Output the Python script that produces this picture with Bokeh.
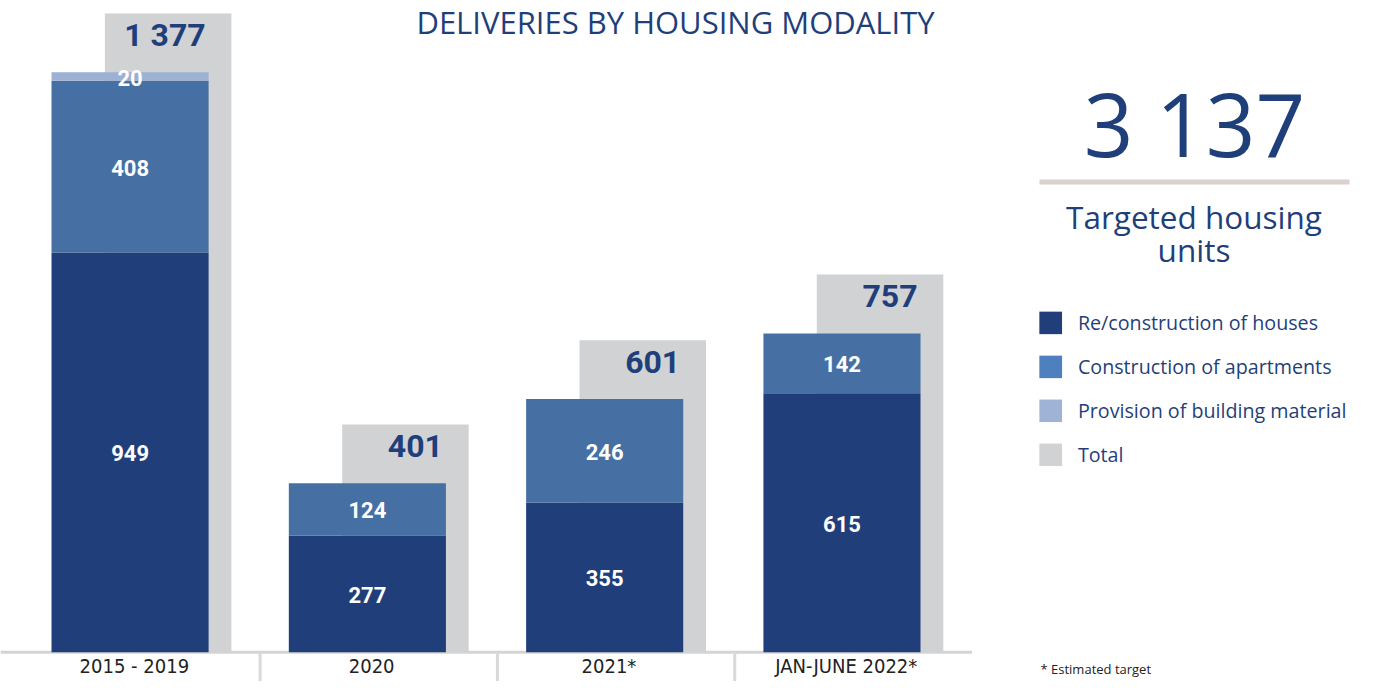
from bokeh.plotting import figure
from bokeh.layouts import row
from bokeh.models import Range1d, ColumnDataSource
from bokeh.embed import file_html
from bokeh.resources import INLINE
from bokeh.core.properties import value

# ---------------- data ----------------
categories = ["2015 - 2019", "2020", "2021*", "JAN-JUNE 2022*"]
houses = [949, 277, 355, 615]
apartments = [408, 124, 246, 142]
material = [20, 0, 0, 0]
totals = [1377, 401, 601, 757]
headline_total = 3137
headline_caption = ["Targeted housing", "units"]
series_names = ["Re/construction of houses", "Construction of apartments",
                "Provision of building material", "Total"]
title_text = "DELIVERIES BY HOUSING MODALITY"
footnote = "* Estimated target"

# ---------------- style ----------------
C_HOUSE = "#1F3E7A"
C_APT = "#4670A3"
C_MAT = "#9DB1D3"
C_TOTAL = "#D1D2D4"
LEG_COLORS = ["#1F3E7A", "#4E7FBE", "#9FB3D6", "#D1D2D4"]
TXT = "#1F3F7A"
LINE_GRAY = "#D4D4D4"

W, H = 1363, 681
W1 = 998
W2 = W - W1
PX_PER_X = 237.3          # pixels per category step
X_START = -0.594
PX_PER_Y = 0.4211         # pixels per unit
BASE_PY = 651.7           # baseline pixel row
Y_START = -(H - BASE_PY) / PX_PER_Y
Y_END = BASE_PY / PX_PER_Y

COL_SHIFT, COL_W = -0.048, 0.662
TOT_SHIFT, TOT_W = 0.1125, 0.533
BOX = 140                 # extra height of the grey total box (value units)
LABEL_SHIFT = -0.03


def sx(px):
    return X_START + px / PX_PER_X


def sy(py):
    return (BASE_PY - py) / PX_PER_Y


p = figure(width=W1, height=H, x_range=Range1d(X_START, X_START + W1 / PX_PER_X),
           y_range=Range1d(Y_START, Y_END), output_backend="svg",
           toolbar_location=None, min_border=0)
p.axis.visible = False
p.grid.visible = False
p.outline_line_color = None
p.background_fill_color = "white"
p.border_fill_color = "white"

n = len(categories)
idx = list(range(n))

# baseline and separators
p.segment(x0=[X_START], y0=[0], x1=[n - 0.5], y1=[0], line_color=LINE_GRAY, line_width=3)
seps = [i + 0.5 for i in idx[:-1]]
p.segment(x0=seps, y0=[0] * len(seps), x1=seps, y1=[Y_START] * len(seps),
          line_color="#D9D9D9", line_width=3)

# grey total boxes
p.vbar(x=[i + TOT_SHIFT for i in idx], top=[t + BOX for t in totals], bottom=0,
       width=TOT_W, fill_color=C_TOTAL, line_color=None)

src = ColumnDataSource(dict(x=[i + COL_SHIFT for i in idx], houses=houses,
                            apartments=apartments, material=material))
p.vbar_stack(["houses", "apartments", "material"], x="x", width=COL_W,
             color=[C_HOUSE, C_APT, C_MAT], line_color=None, source=src)

# segment labels
lx, ly, lt = [], [], []
for i in idx:
    bottom = 0
    for v in (houses[i], apartments[i], material[i]):
        if v > 0:
            lx.append(i + COL_SHIFT)
            ly.append(bottom + v / 2)
            lt.append(str(v))
        bottom += v
p.text(x=lx, y=ly, text=lt, text_color="white", text_font=value("Roboto"),
       text_font_style="bold", text_font_size="22px", text_align="center",
       text_baseline="middle", y_offset=1)

# total labels
p.text(x=[i + COL_SHIFT + COL_W / 2 for i in idx], y=[t + BOX for t in totals],
       text=[f"{t:,}".replace(",", " ") for t in totals], text_color=TXT,
       text_font=value("Roboto"), text_font_style="bold", text_font_size="32px",
       text_align="right", text_baseline="middle", x_offset=-3, y_offset=22)

# category labels
p.text(x=[i + LABEL_SHIFT for i in idx], y=[0] * n, text=categories,
       text_color="#222222", text_font=value("DejaVu Sans Condensed"),
       text_font_size="20px", text_align="center", text_baseline="middle",
       y_offset=14)

# title
p.text(x=[sx(675)], y=[sy(21)], text=[title_text], text_color=TXT,
       text_font=value("Open Sans"), text_font_size="31px", text_align="center",
       text_baseline="middle")

# ---------------- right panel ----------------
q = figure(width=W2, height=H, x_range=Range1d(0, W2), y_range=Range1d(H, 0),
           output_backend="svg", toolbar_location=None, min_border=0)
q.axis.visible = False
q.grid.visible = False
q.outline_line_color = None

q.text(x=[196], y=[122], text=[f"{headline_total:,}".replace(",", " ")], text_color=TXT,
       text_font=value("Open Sans"), text_font_size="87px", text_align="center",
       text_baseline="middle")
q.quad(left=[41], right=[351], top=[179], bottom=[184], fill_color="#DAD0CE", line_color=None)
q.text(x=[195.5, 195.5], y=[216, 249], text=headline_caption, text_color=TXT,
       text_font=value("Open Sans"), text_font_size="31.5px", text_align="center",
       text_baseline="middle")

leg_y = [322.4, 366.4, 410.3, 454.3]
q.rect(x=[52.2] * 4, y=leg_y, width=22.7, height=22.5, fill_color=LEG_COLORS, line_color=None)
q.text(x=[79.4] * 4, y=leg_y, text=series_names, text_color=TXT,
       text_font=value("Open Sans"), text_font_size="19.7px", text_align="left",
       text_baseline="middle")

q.text(x=[42], y=[668], text=[footnote], text_color="#222222",
       text_font=value("Open Sans"), text_font_size="13px", text_align="left",
       text_baseline="middle")

layout = row(p, q, spacing=0)
open("out.html", "w").write(file_html(layout, INLINE))
